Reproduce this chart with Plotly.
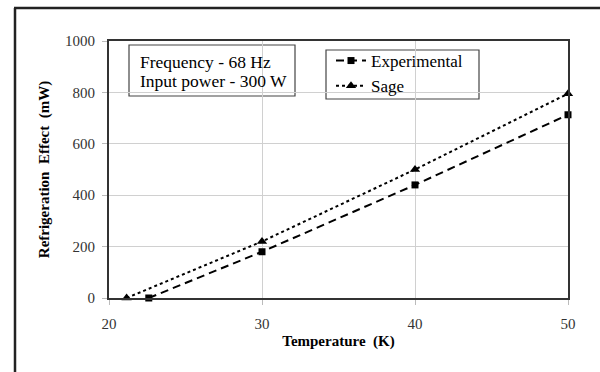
import plotly.graph_objects as go

exp_T = [22.6, 30, 40, 50]
exp_Q = [0, 180, 440, 713]
sage_T = [21.15, 30, 40, 50]
sage_Q = [0, 220, 500, 795]

x_ticks = [20, 30, 40, 50]
y_ticks = [0, 200, 400, 600, 800, 1000]
info_lines = ["Frequency - 68 Hz", "Input power - 300 W"]

FONT = "Liberation Serif"

fig = go.Figure()
fig.add_trace(go.Scatter(
    x=exp_T, y=exp_Q, name="Experimental", mode="lines+markers",
    line=dict(color="black", width=2, dash="8px,5px"),
    marker=dict(symbol="square", size=7, color="black"),
    cliponaxis=False,
))
fig.add_trace(go.Scatter(
    x=sage_T, y=sage_Q, name="Sage", mode="lines+markers",
    line=dict(color="black", width=2, dash="dot"),
    marker=dict(symbol="triangle-up", size=9, color="black"),
    cliponaxis=False,
))

W, H = 600, 372
L, R, T, B = 109, 32, 41, 74
pw, ph = W - L - R, H - T - B

def px(xp):
    return (xp - L) / pw

def py(yp):
    return (H - B - yp) / ph

annotations = []
for i, (txt, yc) in enumerate(zip(info_lines, [62, 81])):
    annotations.append(dict(
        xref="paper", yref="paper", x=px(138), y=py(yc), xanchor="left", yanchor="middle",
        text=txt, showarrow=False, align="left",
        font=dict(family=FONT, size=17.5, color="black"),
    ))

fig.update_layout(
    width=W, height=H,
    margin=dict(l=L, r=R, t=T, b=B),
    paper_bgcolor="white", plot_bgcolor="white",
    font=dict(family=FONT, size=14, color="black"),
    showlegend=True,
    legend=dict(
        x=px(331), y=py(43), xanchor="left", yanchor="top",
        borderwidth=0, bgcolor="rgba(0,0,0,0)",
        font=dict(family=FONT, size=17, color="black"),
        tracegroupgap=0, itemwidth=30,
    ),
    xaxis=dict(
        range=[20, 50], tickvals=x_ticks, ticktext=[str(v) for v in x_ticks],
        showgrid=True, gridcolor="#d0d0d0", gridwidth=1,
        showline=True, linecolor="#333", linewidth=2, mirror=True,
        ticks="outside", ticklen=5, tickcolor="#bbb",
        ticklabelstandoff=6,
        tickfont=dict(family=FONT, size=15, color="#333"),
        title=dict(text="<b>Temperature  (K)</b>", font=dict(family=FONT, size=15, color="black"), standoff=4),
        zeroline=False,
    ),
    yaxis=dict(
        range=[0, 1000], tickvals=y_ticks,
        showgrid=True, gridcolor="#d0d0d0", gridwidth=1,
        showline=True, linecolor="#333", linewidth=2, mirror=True,
        ticks="outside", ticklen=5, tickcolor="#bbb",
        ticklabelstandoff=4,
        tickfont=dict(family=FONT, size=15, color="#333"),
        title=dict(text="<b>Refrigeration  Effect  (mW)</b>", font=dict(family=FONT, size=15, color="black"), standoff=12),
        zeroline=False,
    ),
    shapes=[
        dict(type="line", xref="paper", yref="paper", x0=px(15), x1=px(15), y0=py(8), y1=py(400),
             line=dict(color="#222", width=2.5)),
        dict(type="line", xref="paper", yref="paper", x0=px(14), x1=px(620), y0=py(8), y1=py(8),
             line=dict(color="#222", width=2.5)),
        dict(type="rect", xref="paper", yref="paper", x0=px(129), x1=px(295), y0=py(45), y1=py(96),
             line=dict(color="#444", width=1.2), fillcolor="white", layer="below"),
        dict(type="rect", xref="paper", yref="paper", x0=px(326), x1=px(479), y0=py(50), y1=py(99),
             line=dict(color="#444", width=1.2), fillcolor="white", layer="below"),
    ],
    annotations=annotations,
)

fig.write_html("out.html")
